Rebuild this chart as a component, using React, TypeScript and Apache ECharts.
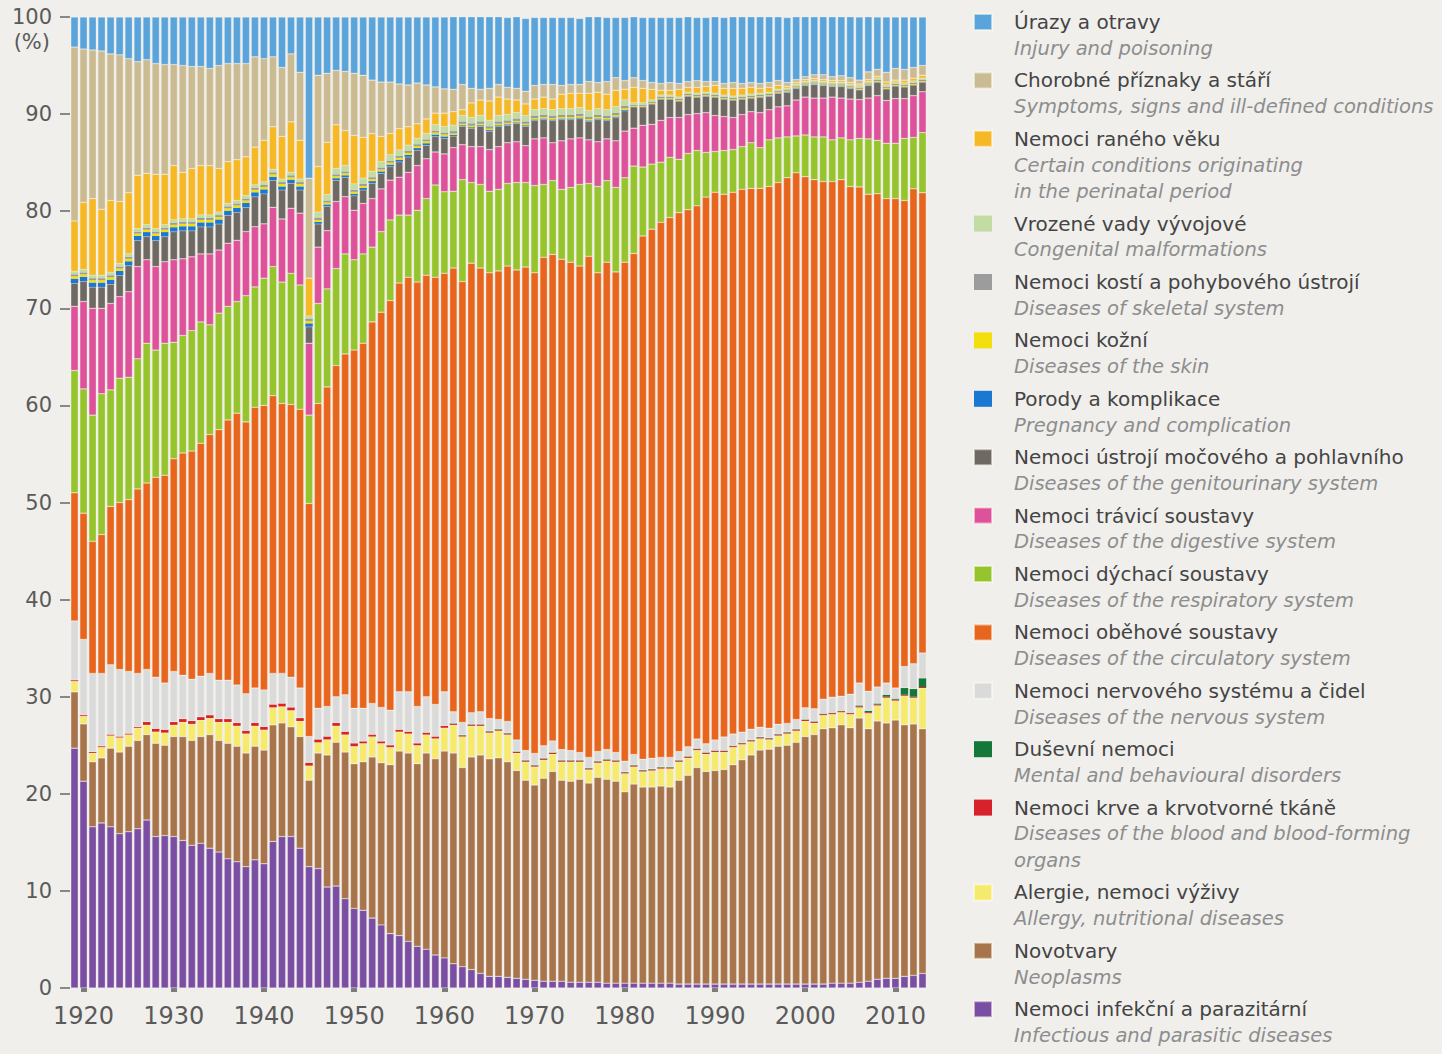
import React, { useEffect, useRef } from "react";
import * as echarts from "echarts";

// ---- categories (years) ----
const years = [
  1919,
  1920, 1921, 1922, 1923, 1924, 1925, 1926, 1927, 1928, 1929,
  1930, 1931, 1932, 1933, 1934, 1935, 1936, 1937, 1938, 1939,
  1940, 1941, 1942, 1943, 1944, 1945, 1946, 1947, 1948, 1949,
  1950, 1951, 1952, 1953, 1954, 1955, 1956, 1957, 1958, 1959,
  1960, 1961, 1962, 1963, 1964, 1965, 1966, 1967, 1968, 1969,
  1970, 1971, 1972, 1973, 1974, 1975, 1976, 1977, 1978, 1979,
  1980, 1981, 1982, 1983, 1984, 1985, 1986, 1987, 1988, 1989,
  1990, 1991, 1992, 1993, 1994, 1995, 1996, 1997, 1998, 1999,
  2000, 2001, 2002, 2003, 2004, 2005, 2006, 2007, 2008, 2009,
  2010, 2011, 2012, 2013,
];

const yTicks = [0, 10, 20, 30, 40, 50, 60, 70, 80, 90, 100];

// ---- series values (% of deaths), bottom of the stack first ----
const infectious = [
  24.7,
  21.3, 16.6, 17.0, 16.6, 15.9, 16.1, 16.4, 17.3, 15.6, 15.7,
  15.6, 15.2, 14.7, 14.9, 14.4, 14.0, 13.3, 13.0, 12.5, 13.2,
  12.8, 15.1, 15.6, 15.6, 14.4, 12.5, 12.3, 10.4, 10.5, 9.2,
  8.2, 8.0, 7.2, 6.5, 5.6, 5.4, 4.8, 4.3, 4.0, 3.4,
  3.1, 2.5, 2.2, 1.9, 1.5, 1.2, 1.2, 1.1, 1.0, 0.9,
  0.8, 0.7, 0.7, 0.7, 0.6, 0.6, 0.6, 0.6, 0.5, 0.5,
  0.5, 0.5, 0.5, 0.5, 0.5, 0.5, 0.4, 0.4, 0.4, 0.4,
  0.4, 0.4, 0.4, 0.4, 0.4, 0.4, 0.4, 0.4, 0.4, 0.4,
  0.4, 0.4, 0.4, 0.5, 0.5, 0.5, 0.6, 0.7, 0.9, 1.0,
  1.0, 1.2, 1.3, 1.5,
];
const neoplasms = [
  5.8,
  5.9, 6.7, 6.7, 8.1, 8.4, 8.8, 9.1, 8.8, 9.6, 9.3,
  10.3, 10.7, 10.8, 11.0, 11.7, 11.5, 11.9, 11.9, 11.7, 11.7,
  11.7, 12.0, 11.7, 11.3, 11.5, 8.9, 11.9, 13.6, 14.8, 15.1,
  14.9, 15.3, 16.6, 16.7, 17.4, 19.0, 19.4, 18.8, 20.2, 20.2,
  21.3, 21.7, 20.5, 21.9, 22.5, 22.4, 22.5, 22.2, 21.4, 20.5,
  20.1, 20.9, 21.6, 20.7, 20.7, 20.9, 20.5, 21.1, 21.0, 20.8,
  19.7, 20.5, 20.2, 20.2, 20.3, 20.2, 21.0, 21.5, 22.3, 21.9,
  22.0, 22.1, 22.6, 23.1, 23.6, 24.1, 24.2, 24.5, 24.6, 24.9,
  25.5, 25.7, 26.3, 26.3, 26.6, 26.3, 27.2, 26.0, 26.6, 26.3,
  26.6, 25.9, 25.9, 25.2,
];
const allergy = [
  1.1,
  0.8, 0.9, 1.1, 1.3, 1.5, 1.2, 1.3, 1.0, 1.2, 1.3,
  1.2, 1.5, 1.7, 1.7, 1.7, 1.9, 2.2, 2.1, 2.0, 2.1,
  2.1, 1.8, 1.7, 1.7, 1.6, 1.5, 1.1, 1.6, 1.7, 1.8,
  1.8, 1.9, 2.1, 2.0, 1.8, 2.0, 2.0, 1.9, 1.9, 2.1,
  2.4, 2.9, 3.2, 3.2, 3.0, 2.7, 2.8, 2.8, 1.8, 1.9,
  1.9, 1.9, 1.8, 1.9, 2.0, 1.8, 1.4, 1.5, 1.9, 2.0,
  1.9, 1.8, 1.6, 1.7, 1.8, 1.9, 1.9, 1.8, 1.8, 1.8,
  1.9, 1.8, 1.8, 1.6, 1.4, 1.2, 1.0, 1.1, 1.2, 1.2,
  1.6, 1.2, 1.4, 1.4, 1.3, 1.4, 1.1, 1.6, 1.6, 2.6,
  2.0, 3.0, 2.7, 4.2,
];
const blood = [
  0.1,
  0.1, 0.1, 0.1, 0.1, 0.1, 0.1, 0.1, 0.3, 0.3, 0.3,
  0.3, 0.3, 0.3, 0.3, 0.3, 0.3, 0.3, 0.3, 0.3, 0.3,
  0.3, 0.3, 0.3, 0.3, 0.3, 0.3, 0.3, 0.3, 0.3, 0.3,
  0.3, 0.2, 0.2, 0.2, 0.2, 0.2, 0.2, 0.2, 0.2, 0.2,
  0.2, 0.1, 0.1, 0.1, 0.1, 0.1, 0.1, 0.1, 0.1, 0.1,
  0.1, 0.1, 0.1, 0.1, 0.1, 0.1, 0.1, 0.1, 0.1, 0.1,
  0.1, 0.1, 0.1, 0.1, 0.1, 0.1, 0.1, 0.1, 0.1, 0.1,
  0.1, 0.1, 0.1, 0.1, 0.1, 0.1, 0.1, 0.1, 0.1, 0.1,
  0.1, 0.1, 0.1, 0.1, 0.1, 0.1, 0.1, 0.1, 0.1, 0.1,
  0.1, 0.1, 0.1, 0.1,
];
const mental = [
  0,
  0, 0, 0, 0, 0, 0, 0, 0, 0, 0,
  0, 0, 0, 0, 0, 0, 0, 0, 0, 0,
  0, 0, 0, 0, 0, 0, 0, 0, 0, 0,
  0, 0, 0, 0, 0, 0, 0, 0, 0, 0,
  0, 0.05, 0.05, 0.05, 0.05, 0.05, 0.05, 0.05, 0.05, 0.05,
  0.05, 0.05, 0.05, 0.05, 0.05, 0.05, 0.05, 0.05, 0.05, 0.05,
  0.05, 0.05, 0.05, 0.05, 0.05, 0.05, 0.05, 0.05, 0.05, 0.05,
  0.05, 0.05, 0.05, 0.05, 0.05, 0.05, 0.05, 0.05, 0.05, 0.05,
  0.05, 0.05, 0.05, 0.05, 0.05, 0.05, 0.1, 0.15, 0.1, 0.2,
  0.1, 0.7, 0.8, 0.9,
];
const nervous = [
  6.1,
  7.8, 8.1, 7.5, 7.2, 6.9, 6.4, 5.5, 5.4, 5.3, 4.8,
  5.2, 4.5, 4.3, 4.2, 4.3, 4.0, 4.0, 3.9, 3.8, 3.6,
  3.8, 3.2, 3.1, 3.1, 3.1, 2.7, 3.2, 3.1, 2.7, 3.8,
  3.6, 3.4, 3.2, 3.5, 3.6, 3.9, 4.1, 3.8, 3.7, 3.3,
  3.5, 1.2, 1.3, 1.2, 1.3, 1.3, 1.0, 1.2, 1.2, 1.0,
  1.2, 1.3, 1.2, 1.1, 1.0, 0.8, 1.1, 1.0, 1.0, 0.8,
  1.1, 1.1, 1.1, 1.1, 1.0, 1.0, 0.9, 1.0, 1.0, 0.9,
  1.1, 1.4, 1.2, 1.1, 1.1, 1.0, 1.0, 1.0, 0.9, 1.0,
  1.2, 1.3, 1.5, 1.6, 1.5, 1.9, 2.3, 2.0, 1.7, 1.2,
  1.1, 2.2, 2.6, 2.6,
];
const circulatory = [
  13.2,
  13.0, 13.6, 14.3, 16.3, 17.2, 17.7, 19.0, 19.2, 20.6, 21.4,
  21.9, 22.9, 23.5, 24.0, 24.6, 25.8, 26.8, 28.0, 28.0, 28.9,
  29.3, 28.6, 27.8, 28.1, 28.7, 24.0, 31.4, 32.9, 34.1, 35.1,
  36.9, 37.6, 39.3, 40.7, 42.2, 42.1, 42.7, 43.7, 43.4, 44.0,
  43.1, 45.7, 45.4, 46.3, 45.7, 45.9, 46.2, 46.9, 48.4, 49.8,
  49.5, 50.3, 50.1, 50.5, 50.3, 50.1, 51.6, 49.3, 50.2, 49.5,
  51.4, 51.6, 53.9, 54.5, 55.1, 55.6, 55.5, 55.3, 54.9, 56.3,
  56.4, 55.9, 55.8, 55.9, 55.7, 55.5, 55.8, 55.8, 56.2, 56.3,
  54.7, 54.5, 53.3, 53.1, 53.2, 52.3, 51.1, 51.2, 50.8, 49.9,
  50.4, 48.0, 48.9, 47.4,
];
const respiratory = [
  12.6,
  12.8, 13.0, 14.5, 12.0, 12.8, 12.6, 13.4, 14.4, 13.1, 13.6,
  12.0, 12.1, 12.4, 12.5, 11.3, 12.0, 11.7, 11.5, 13.0, 12.4,
  13.1, 13.3, 12.5, 13.5, 12.8, 9.1, 10.3, 10.1, 10.0, 10.3,
  9.3, 9.2, 7.7, 8.3, 8.3, 7.0, 6.4, 7.4, 7.9, 9.5,
  8.4, 7.9, 10.5, 8.3, 8.6, 8.4, 8.4, 8.5, 9.0, 8.7,
  9.0, 7.5, 7.6, 7.2, 7.7, 8.4, 7.5, 8.9, 8.4, 8.7,
  8.7, 9.0, 7.1, 6.7, 6.2, 6.2, 5.5, 5.8, 5.7, 4.6,
  4.2, 4.5, 4.4, 4.4, 4.7, 4.2, 4.8, 4.6, 4.2, 3.8,
  4.3, 4.4, 4.6, 4.3, 4.3, 4.8, 5.0, 5.7, 5.5, 5.7,
  5.7, 6.4, 5.3, 6.2,
];
const digestive = [
  6.6,
  9.0, 11.0, 8.8, 8.9, 8.4, 8.8, 9.5, 8.6, 8.6, 8.4,
  8.5, 7.9, 7.6, 7.0, 7.3, 6.5, 6.5, 6.3, 6.6, 6.2,
  5.6, 6.1, 6.5, 6.7, 7.4, 7.4, 5.8, 6.0, 6.9, 5.9,
  5.1, 5.2, 5.0, 4.4, 4.1, 3.9, 4.4, 4.6, 4.1, 3.4,
  3.9, 4.5, 3.6, 3.7, 3.9, 4.3, 4.4, 4.2, 4.2, 3.8,
  4.8, 4.8, 3.9, 5.0, 5.0, 4.8, 4.5, 4.6, 4.3, 4.8,
  4.8, 3.9, 4.3, 4.1, 4.3, 4.1, 4.3, 4.0, 3.8, 4.1,
  3.7, 3.5, 3.3, 3.3, 3.2, 3.6, 3.1, 3.2, 3.2, 3.7,
  3.9, 4.0, 4.0, 4.4, 4.1, 4.2, 4.0, 4.2, 4.6, 4.4,
  4.6, 4.1, 4.3, 4.2,
];
const genitourinary = [
  2.4,
  2.1, 2.2, 2.2, 2.0, 2.2, 2.7, 2.7, 2.4, 2.7, 2.6,
  2.9, 2.9, 2.7, 2.8, 2.8, 2.7, 2.9, 2.9, 2.5, 3.1,
  3.1, 2.8, 3.0, 2.6, 2.4, 1.7, 2.4, 2.5, 2.2, 2.0,
  1.5, 1.4, 1.6, 1.6, 1.4, 1.6, 1.6, 1.6, 1.4, 1.6,
  1.6, 1.2, 1.9, 1.9, 2.1, 1.9, 2.1, 1.8, 1.9, 2.0,
  1.9, 1.9, 2.3, 2.2, 2.0, 2.0, 1.9, 2.3, 1.9, 2.4,
  2.1, 2.2, 1.9, 2.1, 2.2, 1.9, 1.7, 1.9, 1.7, 1.7,
  1.9, 1.8, 1.8, 1.6, 1.4, 1.6, 1.4, 1.4, 1.4, 1.2,
  1.2, 1.4, 1.3, 1.1, 1.2, 1.1, 1.0, 1.3, 1.4, 1.2,
  1.3, 1.2, 1.1, 1.0,
];
const pregnancy = [
  0.45,
  0.45, 0.45, 0.45, 0.45, 0.45, 0.45, 0.45, 0.45, 0.45, 0.45,
  0.45, 0.45, 0.45, 0.45, 0.45, 0.45, 0.45, 0.45, 0.45, 0.45,
  0.45, 0.35, 0.35, 0.35, 0.35, 0.35, 0.2, 0.2, 0.2, 0.2,
  0.2, 0.2, 0.2, 0.2, 0.2, 0.2, 0.2, 0.2, 0.2, 0.2,
  0.2, 0.1, 0.1, 0.1, 0.1, 0.1, 0.1, 0.1, 0.1, 0.1,
  0.1, 0.1, 0.1, 0.1, 0.1, 0.1, 0.1, 0.1, 0.1, 0.1,
  0.1, 0.03, 0.03, 0.03, 0.03, 0.03, 0.03, 0.03, 0.03, 0.03,
  0.03, 0.03, 0.03, 0.03, 0.03, 0.03, 0.03, 0.03, 0.03, 0.03,
  0.03, 0.03, 0.03, 0.03, 0.03, 0.03, 0.03, 0.03, 0.03, 0.03,
  0.03, 0.03, 0.03, 0.03,
];
const skin = [
  0.25,
  0.25, 0.25, 0.25, 0.25, 0.25, 0.25, 0.25, 0.25, 0.25, 0.25,
  0.25, 0.25, 0.25, 0.25, 0.25, 0.25, 0.25, 0.25, 0.25, 0.25,
  0.25, 0.25, 0.25, 0.25, 0.25, 0.25, 0.2, 0.2, 0.2, 0.2,
  0.2, 0.2, 0.2, 0.2, 0.2, 0.2, 0.2, 0.2, 0.2, 0.2,
  0.2, 0.15, 0.15, 0.15, 0.15, 0.15, 0.15, 0.15, 0.15, 0.15,
  0.15, 0.15, 0.15, 0.15, 0.15, 0.15, 0.15, 0.15, 0.15, 0.15,
  0.15, 0.07, 0.07, 0.07, 0.07, 0.07, 0.07, 0.07, 0.07, 0.07,
  0.07, 0.07, 0.07, 0.07, 0.07, 0.07, 0.07, 0.07, 0.07, 0.07,
  0.07, 0.07, 0.07, 0.07, 0.07, 0.07, 0.07, 0.07, 0.07, 0.07,
  0.07, 0.07, 0.07, 0.07,
];
const skeletal = [
  0.2,
  0.2, 0.2, 0.2, 0.2, 0.2, 0.2, 0.2, 0.2, 0.2, 0.2,
  0.2, 0.2, 0.2, 0.2, 0.2, 0.2, 0.2, 0.2, 0.2, 0.2,
  0.2, 0.2, 0.2, 0.2, 0.2, 0.2, 0.2, 0.2, 0.2, 0.2,
  0.2, 0.2, 0.2, 0.2, 0.2, 0.2, 0.2, 0.2, 0.2, 0.2,
  0.2, 0.25, 0.25, 0.25, 0.25, 0.25, 0.25, 0.25, 0.25, 0.25,
  0.25, 0.25, 0.25, 0.25, 0.25, 0.25, 0.25, 0.25, 0.25, 0.25,
  0.25, 0.12, 0.12, 0.12, 0.12, 0.12, 0.12, 0.12, 0.12, 0.12,
  0.12, 0.12, 0.12, 0.12, 0.12, 0.12, 0.12, 0.12, 0.12, 0.12,
  0.12, 0.12, 0.12, 0.12, 0.12, 0.12, 0.12, 0.12, 0.12, 0.12,
  0.12, 0.12, 0.12, 0.12,
];
const congenital = [
  0.3,
  0.3, 0.3, 0.3, 0.3, 0.3, 0.3, 0.3, 0.3, 0.3, 0.3,
  0.3, 0.3, 0.3, 0.3, 0.3, 0.3, 0.3, 0.3, 0.3, 0.3,
  0.3, 0.3, 0.3, 0.3, 0.3, 0.3, 0.6, 0.6, 0.6, 0.6,
  0.6, 0.6, 0.6, 0.6, 0.6, 0.6, 0.6, 0.6, 0.6, 0.6,
  0.6, 0.6, 0.6, 0.6, 0.6, 0.6, 0.6, 0.6, 0.6, 0.6,
  0.6, 0.6, 0.6, 0.6, 0.6, 0.6, 0.6, 0.6, 0.6, 0.6,
  0.6, 0.18, 0.18, 0.18, 0.18, 0.18, 0.18, 0.18, 0.18, 0.18,
  0.18, 0.18, 0.18, 0.18, 0.18, 0.18, 0.18, 0.18, 0.18, 0.18,
  0.18, 0.18, 0.18, 0.18, 0.18, 0.18, 0.18, 0.18, 0.18, 0.18,
  0.18, 0.18, 0.18, 0.18,
];
const perinatal = [
  5.2,
  6.9, 7.9, 6.8, 7.4, 6.4, 6.3, 5.5, 5.3, 5.6, 5.2,
  5.6, 4.8, 5.2, 5.1, 5.1, 4.5, 4.3, 4.2, 4.0, 3.9,
  4.3, 4.4, 4.4, 5.2, 4.0, 3.9, 4.7, 5.4, 4.5, 3.6,
  5.0, 4.2, 3.9, 2.6, 2.2, 2.2, 1.9, 1.5, 1.5, 1.2,
  1.4, 1.4, 0.6, 1.5, 1.6, 2.0, 1.9, 1.6, 1.3, 1.2,
  1.1, 1.2, 1.1, 1.5, 1.6, 1.5, 1.8, 1.7, 1.6, 1.7,
  1.1, 1.6, 1.5, 1.1, 0.5, 0.5, 0.8, 0.5, 0.6, 0.6,
  0.8, 0.7, 0.8, 0.7, 0.7, 0.5, 0.5, 0.4, 0.2, 0.2,
  0.2, 0.2, 0.2, 0.2, 0.2, 0.2, 0.2, 0.2, 0.2, 0.3,
  0.2, 0.3, 0.3, 0.3,
];
const symptoms = [
  17.9,
  15.8, 15.3, 16.3, 15.1, 15.1, 13.8, 11.7, 11.7, 11.4, 11.3,
  10.4, 11.0, 10.5, 10.2, 10.0, 10.6, 10.1, 9.9, 9.6, 9.3,
  8.4, 7.2, 7.1, 7.0, 7.0, 10.3, 9.4, 7.1, 5.6, 6.1,
  6.4, 6.4, 5.5, 5.6, 5.3, 4.6, 4.3, 4.2, 3.5, 2.7,
  2.5, 2.3, 2.6, 1.5, 1.1, 1.3, 1.3, 1.2, 1.2, 1.3,
  1.4, 1.3, 1.5, 0.9, 0.9, 0.9, 1.2, 1.0, 1.3, 1.3,
  0.9, 1.0, 0.8, 0.7, 0.7, 0.8, 0.6, 0.6, 0.7, 0.5,
  0.4, 0.5, 0.6, 0.5, 0.5, 0.5, 0.5, 0.5, 0.4, 0.3,
  0.3, 0.4, 0.5, 0.4, 0.5, 0.5, 0.4, 0.8, 0.7, 1.0,
  1.2, 1.1, 1.1, 1.0,
];
const injury = [
  3.1,
  3.3, 3.4, 3.5, 3.8, 3.9, 4.3, 4.6, 4.4, 4.8, 4.9,
  4.9, 5.0, 5.1, 5.1, 5.3, 5.0, 4.8, 4.8, 4.8, 4.1,
  4.3, 4.1, 5.2, 3.8, 5.7, 16.6, 6.0, 5.8, 5.5, 5.6,
  5.8, 6.0, 6.5, 6.7, 6.7, 6.9, 7.0, 6.8, 7.0, 7.2,
  7.4, 7.5, 7.0, 7.4, 7.5, 7.4, 7.0, 7.2, 7.4, 7.5,
  7.0, 6.9, 6.9, 7.0, 6.9, 6.8, 6.7, 6.8, 6.6, 6.2,
  6.5, 6.3, 6.5, 6.7, 6.8, 6.7, 6.8, 6.7, 6.5, 6.6,
  6.7, 6.8, 6.8, 6.9, 6.8, 6.9, 6.8, 6.6, 6.7, 6.5,
  6.2, 6.0, 6.0, 6.2, 6.1, 6.3, 6.5, 5.7, 5.4, 5.7,
  5.3, 5.4, 5.2, 5.0,
];

type Def = { cz: string; en: string[]; color: string; data: number[]; thin?: boolean };

// stack order: bottom -> top
const seriesDefs: Def[] = [
  { cz: "Nemoci infekční a parazitární", en: ["Infectious and parasitic diseases"], color: "#7a4fa3", data: infectious },
  { cz: "Novotvary", en: ["Neoplasms"], color: "#a8744b", data: neoplasms },
  { cz: "Alergie, nemoci výživy", en: ["Allergy, nutritional diseases"], color: "#f5ea6c", data: allergy },
  { cz: "Nemoci krve a krvotvorné tkáně", en: ["Diseases of the blood and blood-forming", "organs"], color: "#d7212b", data: blood, thin: true },
  { cz: "Duševní nemoci", en: ["Mental and behavioural disorders"], color: "#13783a", data: mental, thin: true },
  { cz: "Nemoci nervového systému a čidel", en: ["Diseases of the nervous system"], color: "#dadada", data: nervous },
  { cz: "Nemoci oběhové soustavy", en: ["Diseases of the circulatory system"], color: "#e8651d", data: circulatory },
  { cz: "Nemoci dýchací soustavy", en: ["Diseases of the respiratory system"], color: "#95c42c", data: respiratory },
  { cz: "Nemoci trávicí soustavy", en: ["Diseases of the digestive system"], color: "#de529b", data: digestive },
  { cz: "Nemoci ústrojí močového a pohlavního", en: ["Diseases of the genitourinary system"], color: "#6e6963", data: genitourinary },
  { cz: "Porody a komplikace", en: ["Pregnancy and complication"], color: "#1b78d2", data: pregnancy, thin: true },
  { cz: "Nemoci kožní", en: ["Diseases of the skin"], color: "#f3df0d", data: skin, thin: true },
  { cz: "Nemoci kostí a pohybového ústrojí", en: ["Diseases of skeletal system"], color: "#9c9c9c", data: skeletal, thin: true },
  { cz: "Vrozené vady vývojové", en: ["Congenital malformations"], color: "#c3dca3", data: congenital, thin: true },
  { cz: "Nemoci raného věku", en: ["Certain conditions originating", "in the perinatal period"], color: "#f6b824", data: perinatal },
  { cz: "Chorobné příznaky a stáří", en: ["Symptoms, signs and ill-defined conditions"], color: "#cbbb92", data: symptoms },
  { cz: "Úrazy a otravy", en: ["Injury and poisoning"], color: "#5aa4dc", data: injury },
];

export default function App() {
  const ref = useRef<HTMLDivElement>(null);

  useEffect(() => {
    if (!ref.current) return;
    const chart = echarts.init(ref.current, null, { renderer: "svg" });
    const F = '"DejaVu Sans", Verdana, sans-serif';
    const L = 26.4;
    const isDecade = (i: number) => years[i] % 10 === 0;
    const byName: Record<string, Def> = {};
    seriesDefs.forEach((s) => (byName[s.cz] = s));

    chart.setOption({
      animation: false,
      backgroundColor: "#f0efec",
      grid: { left: 70, right: 515, top: 17, bottom: 66, containLabel: false },
      xAxis: {
        type: "category",
        data: years.map(String),
        offset: 5,
        axisLine: { show: false },
        axisTick: {
          show: true,
          alignWithLabel: true,
          interval: (i: number) => isDecade(i),
          length: 4,
          lineStyle: { color: "#7c7c7c", width: 6 },
        },
        axisLabel: {
          interval: (i: number) => isDecade(i),
          fontFamily: F,
          fontSize: 24,
          color: "#5a5a5a",
          margin: 11,
        },
      },
      yAxis: {
        type: "value",
        min: 0,
        max: 100,
        interval: 10,
        splitLine: { show: false },
        axisLine: { show: false },
        axisTick: { show: true, length: 10, lineStyle: { color: "#666", width: 1.5 } },
        axisLabel: {
          fontFamily: F,
          fontSize: 21,
          color: "#5a5a5a",
          margin: 18,
          formatter: (v: number) => (yTicks.indexOf(v) >= 0 ? String(v) : ""),
        },
        name: "(%)",
        nameLocation: "end",
        nameGap: -25,
        nameTextStyle: {
          fontFamily: F,
          fontSize: 21,
          color: "#5a5a5a",
          align: "right",
          verticalAlign: "middle",
          padding: [0, 20, 0, 0],
        },
      },
      legend: {
        orient: "vertical",
        left: 973,
        top: 12,
        padding: 0,
        itemWidth: 18,
        itemHeight: 16,
        itemGap: 12,
        icon: "rect",
        selectedMode: false,
        data: seriesDefs
          .slice()
          .reverse()
          .map((s) => ({
            name: s.cz,
            textStyle: { padding: [s.en.length * L, 0, 0, 17] },
          })),
        formatter: (name: string) => {
          const s = byName[name];
          return [`{cz|${s.cz}}`].concat(s.en.map((e) => `{en|${e}}`)).join("\n");
        },
        textStyle: {
          rich: {
            cz: { fontFamily: F, fontSize: 20, lineHeight: L, color: "#444" },
            en: { fontFamily: F, fontSize: 19.5, lineHeight: L, color: "#8d8d8d", fontStyle: "italic" },
          },
        },
      },
      series: seriesDefs.map((s) => ({
        name: s.cz,
        type: "bar",
        stack: "total",
        data: s.data,
        barCategoryGap: "18%",
        silent: true,
        itemStyle: s.thin
          ? { color: s.color }
          : { color: s.color, borderColor: "rgba(255,253,240,0.55)", borderWidth: 0.5 },
        emphasis: { disabled: true },
      })),
    });

    return () => chart.dispose();
  }, []);

  return (
    <div
      ref={ref}
      style={{ position: "fixed", left: 0, top: 0, width: 1442, height: 1054 }}
    />
  );
}
